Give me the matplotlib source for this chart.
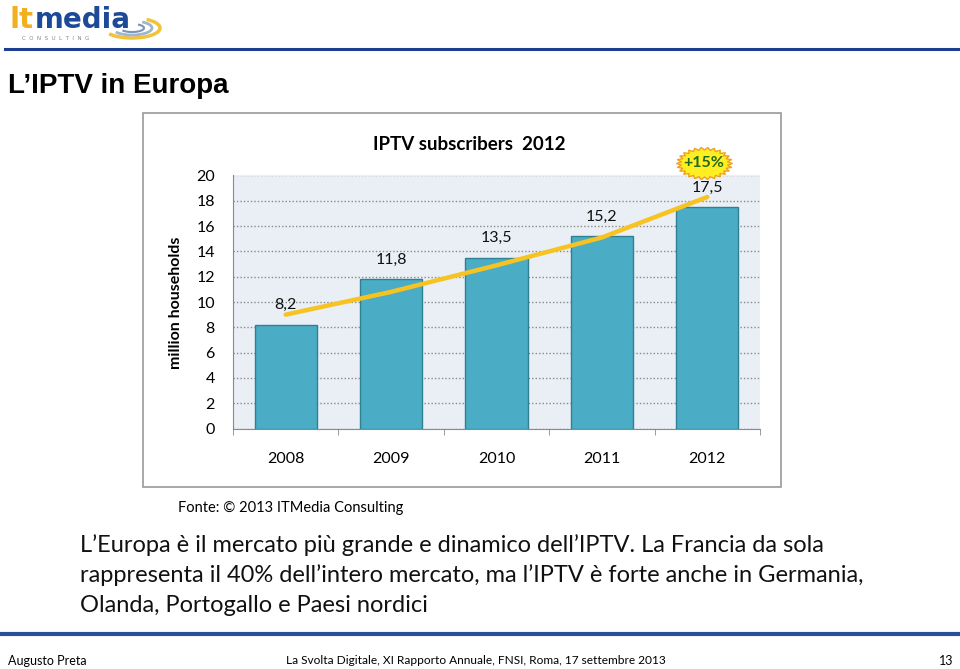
import numpy as np
import matplotlib
matplotlib.use("Agg")
import matplotlib.pyplot as plt
import matplotlib.patches as patches
from matplotlib.path import Path

# data
years = ["2008", "2009", "2010", "2011", "2012"]
subscribers = [8.2, 11.8, 13.5, 15.2, 17.5]
trend = [9.0, 10.8, 12.9, 15.1, 18.3]   # yellow growth line
yticks = list(range(0, 21, 2))

body_lines = [
    "L\u2019Europa è il mercato più grande e dinamico dell\u2019IPTV. La Francia da sola",
    "rappresenta il 40% dell\u2019intero mercato, ma l\u2019IPTV è forte anche in Germania,",
    "Olanda, Portogallo e Paesi nordici",
]

W, H = 960, 669
fig = plt.figure(figsize=(W / 100, H / 100), dpi=100)
fig.patch.set_facecolor("white")


def fx(px):
    return px / W


def fy(py):
    return 1 - py / H


body_font = ["Lato", "DejaVu Sans"]

# logo
fig.text(fx(9), fy(28), "lt", fontsize=21, fontweight="bold", color="#f0b020",
         family="DejaVu Sans", va="baseline")
fig.text(fx(35), fy(28), "media", fontsize=20, fontweight="bold", color="#1d4a98",
         family="DejaVu Sans", va="baseline")
fig.text(fx(22), fy(38), "C  O  N  S  U  L  T  I  N  G", fontsize=4, color="#888888",
         va="center")
for w, h, c, lw in [(56, 20, "#f2c23a", 2.5), (40, 14, "#9fb6cf", 2), (24, 8, "#7a95b8", 1.5)]:
    fig.add_artist(patches.Arc((fx(132), fy(28)), fx(w), h / H, theta1=200, theta2=40,
                               color=c, lw=lw, transform=fig.transFigure))
fig.add_artist(plt.Line2D([fx(5), fx(960)], [fy(49), fy(49)], color="#1d3f8f", lw=2.2,
                          transform=fig.transFigure))

# page title
fig.text(fx(8), fy(86), "L\u2019IPTV in Europa", fontsize=20, fontweight="bold",
         family=["Liberation Sans", "DejaVu Sans"], va="center")

# chart box
fig.add_artist(patches.Rectangle((fx(143), fy(487)), fx(781 - 143), (487 - 113) / H,
                                 fill=False, edgecolor="#9a9a9a", lw=1.2,
                                 transform=fig.transFigure))

ax = fig.add_axes([fx(233), fy(428.5), fx(760 - 233), (428.5 - 175.5) / H])
ax.set_facecolor("#e9eff5")
x = np.arange(len(years))
ax.bar(x, subscribers, width=0.59, color="#4bacc6", edgecolor="#2f7f95", lw=1, zorder=3)
ax.plot(x, trend, color="#f7c320", lw=3.2, solid_capstyle="round", zorder=4)

for i, v in enumerate(subscribers):
    ax.annotate(f"{v:.1f}".replace(".", ","), (i, v), xytext=(0, 14),
                textcoords="offset points", ha="center", va="center",
                fontsize=11.5, family=body_font, color="#111111", zorder=5)

ax.set_xlim(-0.5, 4.5)
ax.set_ylim(0, 20)
ax.set_yticks(yticks)
ax.yaxis.grid(True, linestyle=(0, (1, 1.5)), color="#8a8a8a", lw=1, zorder=0)
ax.set_axisbelow(True)
ax.set_xticks(x)
ax.set_xticklabels(years, family=body_font, fontsize=11.5)
ax.set_xticks(np.arange(-0.5, 5, 1), minor=True)
ax.tick_params(axis="x", which="major", length=0, pad=17)
ax.tick_params(axis="x", which="minor", length=4, color="#8a8a8a", direction="out")
ax.tick_params(axis="y", length=0, pad=13)
for lab in ax.get_yticklabels():
    lab.set_family(body_font)
    lab.set_fontsize(11.5)
for s in ["top", "right"]:
    ax.spines[s].set_visible(False)
for s in ["left", "bottom"]:
    ax.spines[s].set_color("#8a8a8a")

fig.text(fx(469), fy(145), "IPTV subscribers  2012", ha="center", va="center",
         fontsize=13.5, fontweight="bold", family=body_font)
fig.text(fx(176), fy(303), "million households", rotation=90, ha="center", va="center",
         fontsize=11.5, fontweight="bold", family=body_font)

# +15% starburst
n = 26
ang = np.linspace(0, 2 * np.pi, 2 * n, endpoint=False)
rad = np.where(np.arange(2 * n) % 2 == 0, 1.0, 0.84)
verts = np.column_stack([rad * np.cos(ang), 0.58 * rad * np.sin(ang)])
verts = np.vstack([verts, verts[:1]])
star = Path(verts, closed=True)
ax.plot([3.97], [21.0], marker=star, ms=40, mfc="#ffee22", mec="#f0a020", mew=1,
        clip_on=False, zorder=6)
ax.text(3.97, 21.0, "+15%", ha="center", va="center", fontsize=11.5, fontweight="bold",
        color="#1f6a1f", family=body_font, clip_on=False, zorder=7)

# source
fig.text(fx(178), fy(508), "Fonte: \u00a9 2013 ITMedia Consulting", fontsize=10.5,
         family=body_font, va="center")

# body text
for k, line in enumerate(body_lines):
    fig.text(fx(80), fy(545 + 30.5 * k), line, fontsize=17, family=body_font,
             va="center", color="#111111")

# footer
fig.add_artist(plt.Line2D([0, 1], [fy(634), fy(634)], color="#2a4f9a", lw=3,
                          transform=fig.transFigure))
fig.text(fx(8), fy(661), "Augusto Preta", fontsize=9, family=body_font, va="center")
fig.text(fx(476), fy(661), "La Svolta Digitale, XI Rapporto Annuale, FNSI, Roma, 17 settembre 2013",
         fontsize=8.6, family=body_font, va="center", ha="center")
fig.text(fx(953), fy(661), "13", fontsize=9, family=body_font, va="center", ha="right")

fig.savefig("out.png", dpi=100)
